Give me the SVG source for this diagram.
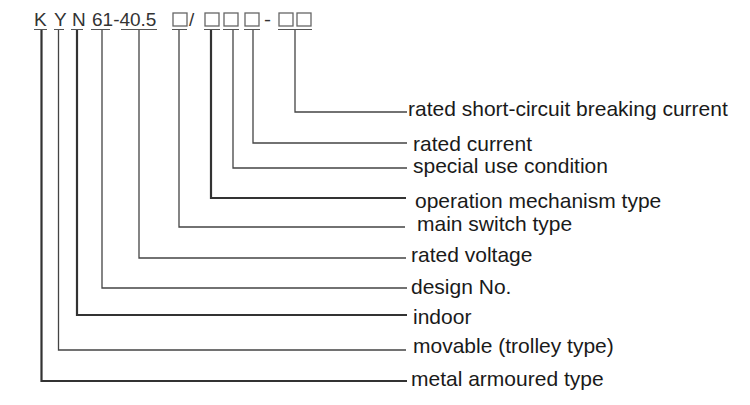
<svg xmlns="http://www.w3.org/2000/svg" width="750" height="405" viewBox="0 0 750 405">
<style>
.hd{font-family:"Liberation Sans",Arial,sans-serif;font-size:19px;fill:#333}
.lb{font-family:"Liberation Sans",Arial,sans-serif;font-size:21px;fill:#1a1a1a}
.ul{stroke:#555;stroke-width:1.2;fill:none}
.bx{stroke:#666;stroke-width:1.3;fill:none}
.c{stroke:#444;stroke-width:1.3;fill:none}
.t{stroke:#333;stroke-width:2.2;fill:none}
</style>
<rect width="750" height="405" fill="#fff"/>
<g id="code">
<text class="hd" x="34" y="26">K</text>
<text class="hd" x="54" y="26">Y</text>
<text class="hd" x="72" y="26">N</text>
<text class="hd" x="92" y="26">61-40.5</text>
<rect class="bx" x="173" y="13" width="14" height="13"/>
<text class="hd" x="189" y="26">/</text>
<rect class="bx" x="205" y="13" width="14" height="13"/>
<rect class="bx" x="224" y="13" width="14" height="13"/>
<rect class="bx" x="245" y="13" width="14" height="13"/>
<text class="hd" x="264" y="26" textLength="7" lengthAdjust="spacingAndGlyphs">-</text>
<rect class="bx" x="279" y="13" width="14" height="13"/>
<rect class="bx" x="297" y="13" width="14" height="13"/>
<path class="ul" d="M34 29.5H47M54 29.5H64M71 29.5H83M91 29.5H110M121 29.5H157M172 29.5H187M204 29.5H220M223 29.5H239M244 29.5H260M278 29.5H312"/>
</g>
<g id="connectors">
<path class="c" d="M295 30V112H407"/>
<path class="c" d="M253 30V143H407"/>
<path class="c" d="M233 30V168H407"/>
<path class="t" d="M211 30V198H406"/>
<path class="c" d="M179 30V227H405"/>
<path class="c" d="M139 30V258H406"/>
<path class="c" d="M102 30V288H407"/>
<path class="t" d="M77 30V315H407"/>
<path class="c" d="M58.5 30V350H406"/>
<path class="t" d="M41.5 30V381H407"/>
</g>
<g id="n-breaking"><text class="lb" x="408" y="116">rated short-circuit breaking current</text></g>
<g id="n-current"><text class="lb" x="413" y="151">rated current</text></g>
<g id="n-special"><text class="lb" x="413" y="173">special use condition</text></g>
<g id="n-operation"><text class="lb" x="415" y="208">operation mechanism type</text></g>
<g id="n-switch"><text class="lb" x="417" y="231">main switch type</text></g>
<g id="n-voltage"><text class="lb" x="411" y="262">rated voltage</text></g>
<g id="n-design"><text class="lb" x="411" y="294">design No.</text></g>
<g id="n-indoor"><text class="lb" x="413" y="324">indoor</text></g>
<g id="n-movable"><text class="lb" x="413" y="353">movable (trolley type)</text></g>
<g id="n-metal"><text class="lb" x="411" y="386">metal armoured type</text></g>
</svg>
